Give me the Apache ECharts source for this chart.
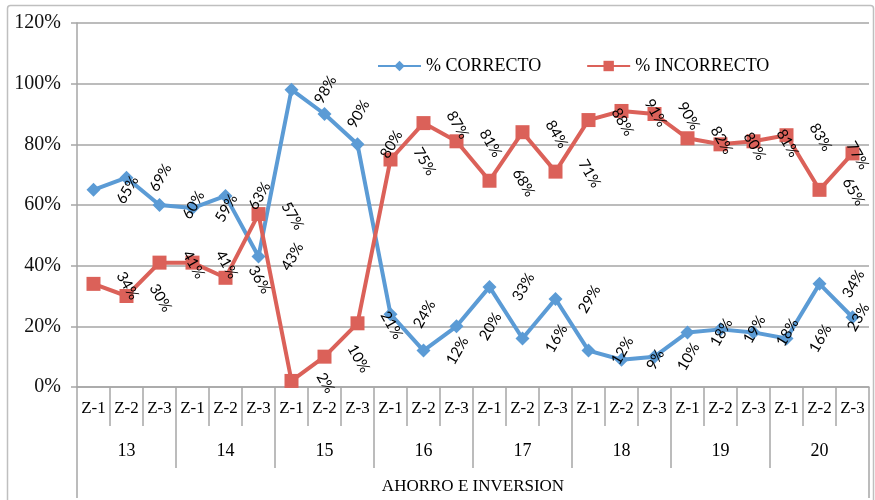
<!DOCTYPE html>
<html>
<head>
<meta charset="utf-8">
<script src="https://cdn.jsdelivr.net/npm/echarts@6/dist/echarts.min.js"></script>
<style>
html,body{margin:0;padding:0;background:#fff;}
#chart{width:875px;height:500px;}
</style>
</head>
<body>
<div id="chart"></div>
<script>
var subCategories = ['Z-1','Z-2','Z-3','Z-1','Z-2','Z-3','Z-1','Z-2','Z-3','Z-1','Z-2','Z-3','Z-1','Z-2','Z-3','Z-1','Z-2','Z-3','Z-1','Z-2','Z-3','Z-1','Z-2','Z-3'];
var groups = ['13','14','15','16','17','18','19','20'];
var axisTitle = 'AHORRO E INVERSION';
var seriesNames = ['% CORRECTO', '% INCORRECTO'];
var correcto = [65,69,60,59,63,43,98,90,80,24,12,20,33,16,29,12,9,10,18,19,18,16,34,23];
var incorrecto = [34,30,41,41,36,57,2,10,21,75,87,81,68,84,71,88,91,90,82,80,81,83,65,77];

var BLUE = '#5B9BD5', RED = '#DB6159', GRID = '#A6A6A6';
var labelFont = 'Lato';
var serif = 'Liberation Serif';
var SYM = 14, H = SYM / 2;

// label placement overrides (style only), as offsets from the point centre
var blueLabelOverride = {23: [6, 0]};
var redLabelOverride = {23: [5, 2]};

function pos(off) { return [H + off[0], H + off[1]]; }

function build(values, overrides) {
  return values.map(function (v, i) {
    var d = {value: v};
    if (overrides[i]) d.label = {position: pos(overrides[i])};
    return d;
  });
}

var legendText = {fontFamily: serif, fontSize: 18, color: '#000'};

var chart = echarts.init(document.getElementById('chart'));
chart.setOption({
  animation: false,
  backgroundColor: '#fff',
  textStyle: {fontFamily: serif},
  grid: {left: 77, right: 6, top: 23, bottom: 111, containLabel: false},
  legend: {
    top: 52, left: 372, itemWidth: 43, itemHeight: 13, itemGap: 45,
    textStyle: legendText,
    data: seriesNames.map(function (n) { return {name: n, textStyle: legendText}; })
  },
  xAxis: [
    {
      type: 'category', data: subCategories, position: 'bottom', boundaryGap: true,
      axisLine: {show: true, lineStyle: {color: GRID, width: 1.5}},
      axisTick: {show: true, interval: 0, length: 39, lineStyle: {color: GRID, width: 1.5}},
      axisLabel: {interval: 0, margin: 13, fontFamily: serif, fontSize: 17, color: '#000'}
    },
    {
      type: 'category', data: groups, position: 'bottom', boundaryGap: true,
      axisLine: {show: false},
      axisTick: {show: true, interval: 0, length: 81, lineStyle: {color: GRID, width: 1.5}},
      axisLabel: {interval: 0, margin: 55, fontFamily: serif, fontSize: 18, color: '#000'},
      name: axisTitle, nameLocation: 'middle', nameGap: 91,
      nameTextStyle: {fontFamily: serif, fontSize: 17, color: '#000'}
    },
    {
      type: 'category', data: [''], position: 'bottom', boundaryGap: true,
      axisLine: {show: false},
      axisTick: {show: true, interval: 0, length: 111, lineStyle: {color: GRID, width: 1.5}},
      axisLabel: {show: false}
    }
  ],
  yAxis: {
    type: 'value', min: 0, max: 120, interval: 20,
    axisLine: {show: true, lineStyle: {color: GRID, width: 1.5}},
    axisTick: {show: true, length: 6, lineStyle: {color: GRID, width: 1.5}},
    splitLine: {show: true, lineStyle: {color: GRID, width: 1.5}},
    axisLabel: {formatter: '{value}%', margin: 16, fontFamily: serif, fontSize: 20, color: '#111'}
  },
  series: [
    {
      name: seriesNames[0], type: 'line', xAxisIndex: 0,
      data: build(correcto, blueLabelOverride),
      symbol: 'diamond', symbolSize: SYM,
      itemStyle: {color: BLUE}, lineStyle: {color: BLUE, width: 4},
      label: {
        show: true, position: pos([34, 0]), rotate: 60,
        align: 'center', verticalAlign: 'middle',
        formatter: '{c}%', fontFamily: labelFont, fontSize: 15, color: '#000'
      },
      labelLayout: {hideOverlap: false}
    },
    {
      name: seriesNames[1], type: 'line', xAxisIndex: 0,
      data: build(incorrecto, redLabelOverride),
      symbol: 'rect', symbolSize: SYM,
      itemStyle: {color: RED}, lineStyle: {color: RED, width: 4},
      label: {
        show: true, position: pos([34, 2]), rotate: -60,
        align: 'center', verticalAlign: 'middle',
        formatter: '{c}%', fontFamily: labelFont, fontSize: 15, color: '#000'
      },
      labelLayout: {hideOverlap: false}
    }
  ],
  graphic: [
    {
      type: 'rect', left: 5, top: 3, silent: true, z: -1,
      shape: {width: 866, height: 505, r: 3},
      style: {fill: 'none', stroke: '#BFBFBF', lineWidth: 1.5}
    }
  ]
});
</script>
</body>
</html>
